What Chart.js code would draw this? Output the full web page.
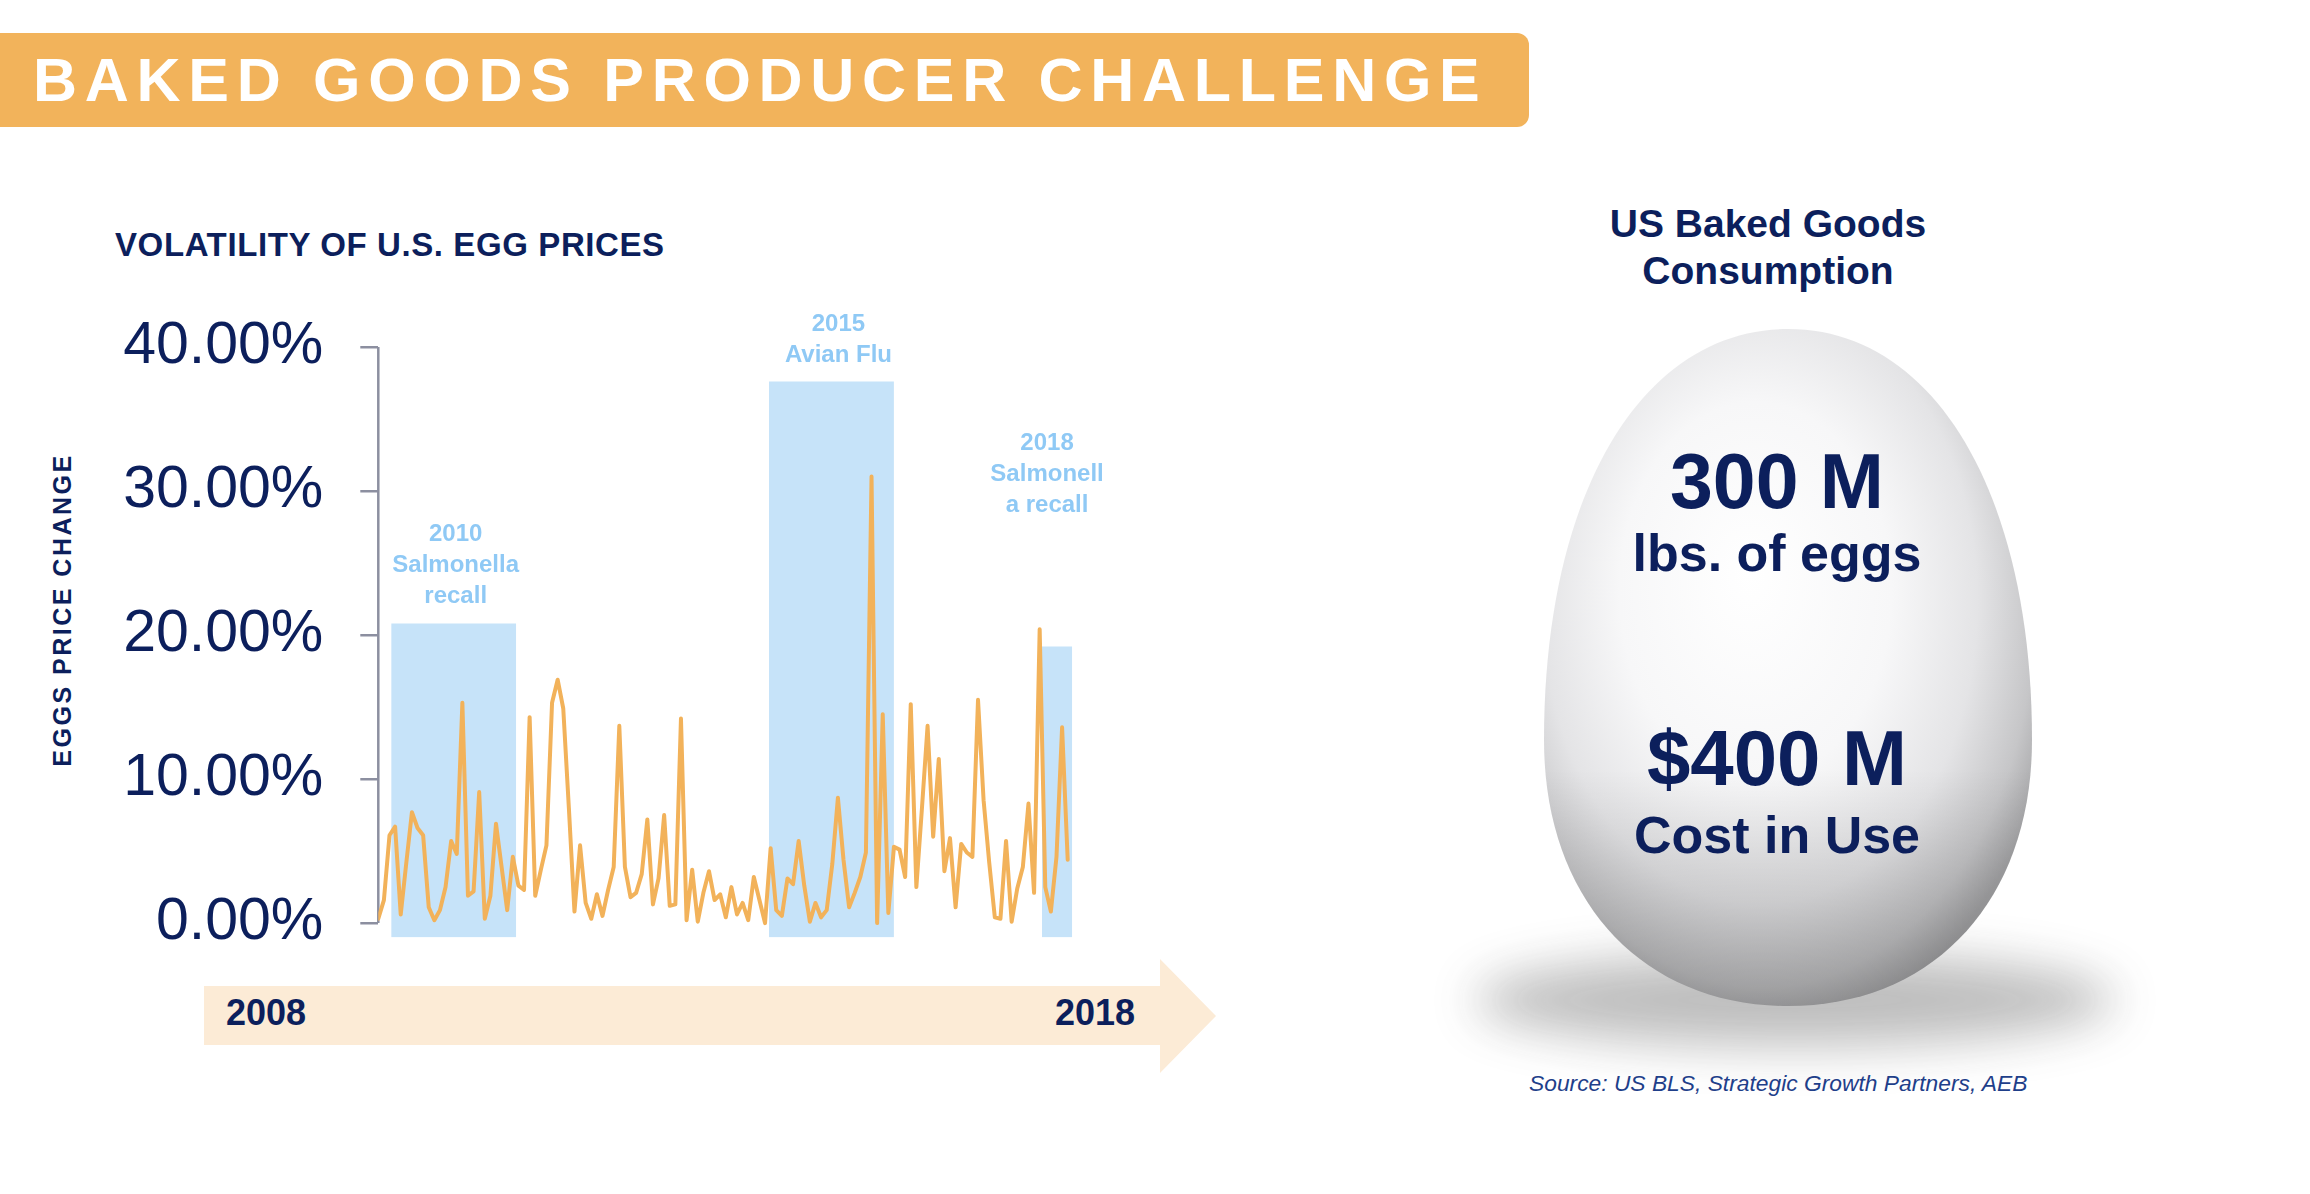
<!DOCTYPE html>
<html>
<head>
<meta charset="utf-8">
<title>Baked Goods Producer Challenge</title>
<script src="https://cdn.jsdelivr.net/npm/chart.js@4.4.1/dist/chart.umd.min.js"></script>
<style>
  html, body { margin: 0; padding: 0; background: #fff; }
  body { width: 2310px; height: 1194px; position: relative; overflow: hidden;
         font-family: 'Liberation Sans', Arial, sans-serif; color: #0C1F5C; }
  .banner { position: absolute; left: 0; top: 33px; width: 1529px; height: 94px;
            background: #F2B35B; border-radius: 0 12px 12px 0; }
  .banner span { position: absolute; left: 33px; top: 0; line-height: 94px; font-size: 61px;
                 font-weight: bold; letter-spacing: 7.7px; color: #fff; white-space: nowrap; }
  .chart-title { position: absolute; left: 115px; top: 228px; font-size: 33px; line-height: 1;
                 font-weight: bold; white-space: nowrap; letter-spacing: 0.6px; }
  .y-title { position: absolute; left: 62px; top: 610px; font-size: 25px; font-weight: bold;
             letter-spacing: 2.5px; white-space: nowrap; transform: translate(-50%, -50%) rotate(-90deg); }
  .year { position: absolute; top: 995px; font-size: 36px; line-height: 1; font-weight: bold; }
  #art { position: absolute; left: 0; top: 0; }
  #chartBox { position: absolute; left: 0; top: 257px; width: 1110px; height: 771px; }
</style>
</head>
<body>

<svg id="art" width="2310" height="1194" viewBox="0 0 2310 1194">
  <defs>
    <radialGradient id="eggGrad" cx="0.45" cy="0.42" r="0.62" fx="0.42" fy="0.36">
      <stop offset="0" stop-color="#ffffff"/>
      <stop offset="0.45" stop-color="#f7f7f8"/>
      <stop offset="0.72" stop-color="#e4e4e6"/>
      <stop offset="0.9" stop-color="#c6c6c8"/>
      <stop offset="1" stop-color="#a6a6a8"/>
    </radialGradient>
    <linearGradient id="eggShade" x1="0" y1="0" x2="0" y2="1">
      <stop offset="0.65" stop-color="#000" stop-opacity="0"/>
      <stop offset="1" stop-color="#000" stop-opacity="0.2"/>
    </linearGradient>
    <filter id="soft" x="-50%" y="-200%" width="200%" height="500%">
      <feGaussianBlur stdDeviation="24"/>
    </filter>
  </defs>

  <!-- timeline arrow -->
  <polygon points="204,986 1160,986 1160,959 1216,1016 1160,1073 1160,1045 204,1045" fill="#FCEBD6"/>

  <!-- egg -->
  <ellipse cx="1795" cy="1000" rx="320" ry="46" fill="#444" opacity="0.35" filter="url(#soft)"/>
  <path d="M1788,329 C1934,329 2032,493 2032,740 C2032,900 1934,1006 1788,1006 C1642,1006 1544,900 1544,740 C1544,493 1642,329 1788,329 Z"
        fill="url(#eggGrad)"/>
  <path d="M1788,329 C1934,329 2032,493 2032,740 C2032,900 1934,1006 1788,1006 C1642,1006 1544,900 1544,740 C1544,493 1642,329 1788,329 Z"
        fill="url(#eggShade)"/>

  <g font-family="'Liberation Sans', Arial, sans-serif" font-weight="bold" fill="#0C1F5C" text-anchor="middle">
    <text x="1768" y="237" font-size="39">US Baked Goods</text>
    <text x="1768" y="284" font-size="39">Consumption</text>
    <text x="1777" y="508" font-size="77">300 M</text>
    <text x="1777" y="571" font-size="52">lbs. of eggs</text>
    <text x="1777" y="785" font-size="78">$400 M</text>
    <text x="1777" y="853" font-size="52">Cost in Use</text>
  </g>
  <text x="1529" y="1091" font-family="'Liberation Sans', Arial, sans-serif" font-style="italic"
        font-size="22.8" fill="#1F3F8A">Source: US BLS, Strategic Growth Partners, AEB</text>
</svg>

<div class="banner"><span>BAKED GOODS PRODUCER CHALLENGE</span></div>
<div class="chart-title">VOLATILITY OF U.S. EGG PRICES</div>
<div class="y-title">EGGS PRICE CHANGE</div>
<div class="year" style="left:226px">2008</div>
<div class="year" style="right:1175px">2018</div>

<div id="chartBox"><canvas id="eggChart" width="1110" height="771"></canvas></div>

<script>
/* ── data ── */
// monthly egg price change, 2008 → 2018 (%)
const PRICE_CHANGE = [
  0.3, 1.6, 6.1, 6.7, 0.6, 4.2, 7.7, 6.6, 6.1, 1.1, 0.2, 0.9, 2.5, 5.7, 4.8, 15.3,
  1.9, 2.2, 9.1, 0.3, 1.9, 6.9, 3.9, 0.9, 4.6, 2.6, 2.3, 14.3, 1.9, 3.7, 5.4, 15.3,
  16.9, 14.9, 8.0, 0.8, 5.4, 1.4, 0.3, 2.0, 0.5, 2.3, 3.9, 13.7, 3.9, 1.8, 2.1, 3.4,
  7.2, 1.3, 3.1, 7.5, 1.2, 1.3, 14.2, 0.2, 3.7, 0.1, 2.1, 3.6, 1.6, 2.0, 0.4, 2.5,
  0.6, 1.4, 0.2, 3.2, 1.6, 0.0, 5.2, 0.9, 0.5, 3.1, 2.7, 5.7, 2.6, 0.1, 1.4, 0.4,
  0.9, 4.1, 8.7, 4.4, 1.1, 2.1, 3.2, 4.9, 31.0, 0.0, 14.5, 0.7, 5.3, 5.1, 3.2, 15.2,
  2.5, 8.0, 13.7, 6.0, 11.4, 3.6, 5.9, 1.1, 5.5, 4.9, 4.6, 15.5, 8.5, 4.2, 0.4, 0.3,
  5.7, 0.1, 2.4, 3.9, 8.3, 2.1, 20.4, 2.5, 0.8, 4.6, 13.6, 4.4
];

// highlighted events (month index from Jan 2008)
const EVENT_START = [2.3, 69.7, 118.4];
const EVENT_END = [24.6, 92.0, 123.8];
const EVENT_TOP = [20.8, 37.6, 19.2];
const EVENT_BASE = -1;
const EVENT_LABELS = [['2010', 'Salmonella', 'recall'], ['2015', 'Avian Flu'], ['2018', 'Salmonell', 'a recall']];

const Y_TICKS = [0, 10, 20, 30, 40];

/* ── colours ── */
const NAVY = '#0C1F5C';
const ORANGE = '#F2B25A';
const SHADE = '#C6E3F9';
const SHADE_TEXT = '#8FC9F5';

/* ── plugins ── */
// y axis line only between 0% and 40%, like the slide
const axisLine = {
  id: 'axisLine',
  beforeDatasetsDraw(chart) {
    const { ctx, scales: { y }, chartArea } = chart;
    ctx.save();
    ctx.strokeStyle = '#8C8FA0';
    ctx.lineWidth = 2.5;
    ctx.beginPath();
    ctx.moveTo(chartArea.left, y.getPixelForValue(Y_TICKS[0]));
    ctx.lineTo(chartArea.left, y.getPixelForValue(Y_TICKS[Y_TICKS.length - 1]));
    ctx.stroke();
    ctx.restore();
  }
};

// event captions above each shaded block
const eventLabels = {
  id: 'eventLabels',
  afterDatasetsDraw(chart, args, opts) {
    const { ctx, scales: { x, y } } = chart;
    ctx.save();
    ctx.font = 'bold 24px "Liberation Sans", Arial, sans-serif';
    ctx.fillStyle = SHADE_TEXT;
    ctx.textAlign = 'center';
    ctx.textBaseline = 'middle';
    EVENT_LABELS.forEach((lines, i) => {
      const cx = x.getPixelForValue((EVENT_START[i] + EVENT_END[i]) / 2) + opts.dx[i];
      const bottom = y.getPixelForValue(EVENT_TOP[i]) - opts.gap[i];
      lines.slice().reverse().forEach((t, k) => ctx.fillText(t, cx, bottom - k * 31));
    });
    ctx.restore();
  }
};

/* ── chart ── */
const events = EVENT_LABELS.map((_, i) => ({
  type: 'line',
  data: [{ x: EVENT_START[i], y: EVENT_TOP[i] }, { x: EVENT_END[i], y: EVENT_TOP[i] }],
  fill: { value: EVENT_BASE },
  backgroundColor: SHADE,
  borderWidth: 0,
  pointRadius: 0,
  order: 2,
}));

new Chart(document.getElementById('eggChart'), {
  type: 'line',
  data: {
    datasets: [
      {
        label: 'Egg price change',
        data: PRICE_CHANGE.map((v, i) => ({ x: i, y: v })),
        borderColor: ORANGE,
        borderWidth: 4,
        borderJoinStyle: 'round',
        borderCapStyle: 'round',
        pointRadius: 0,
        tension: 0,
        fill: false,
        order: 1,
      },
      ...events,
    ],
  },
  options: {
    responsive: false,
    animation: false,
    events: [],
    layout: { padding: { top: 90, bottom: 90.5, right: 36.7, left: 0 } },
    plugins: {
      legend: { display: false },
      tooltip: { enabled: false },
      eventLabels: { dx: [2, 7, -10], gap: [27, 26, 141] },
    },
    scales: {
      x: {
        type: 'linear',
        display: false,
        min: 0,
        max: 124,
      },
      y: {
        min: EVENT_BASE,
        max: 40,
        afterBuildTicks: s => { s.ticks = Y_TICKS.map(v => ({ value: v })); },
        afterFit: s => { s.width = 378.3; },
        border: { display: false },
        grid: { drawOnChartArea: false, drawTicks: true, tickLength: 18, color: '#8C8FA0', lineWidth: 2.5 },
        ticks: {
          padding: 37,
          color: NAVY,
          font: { family: '"Liberation Sans", Arial, sans-serif', size: 59 },
          callback: v => v.toFixed(2) + '%',
        },
      },
    },
  },
  plugins: [axisLine, eventLabels],
});
</script>
</body>
</html>
